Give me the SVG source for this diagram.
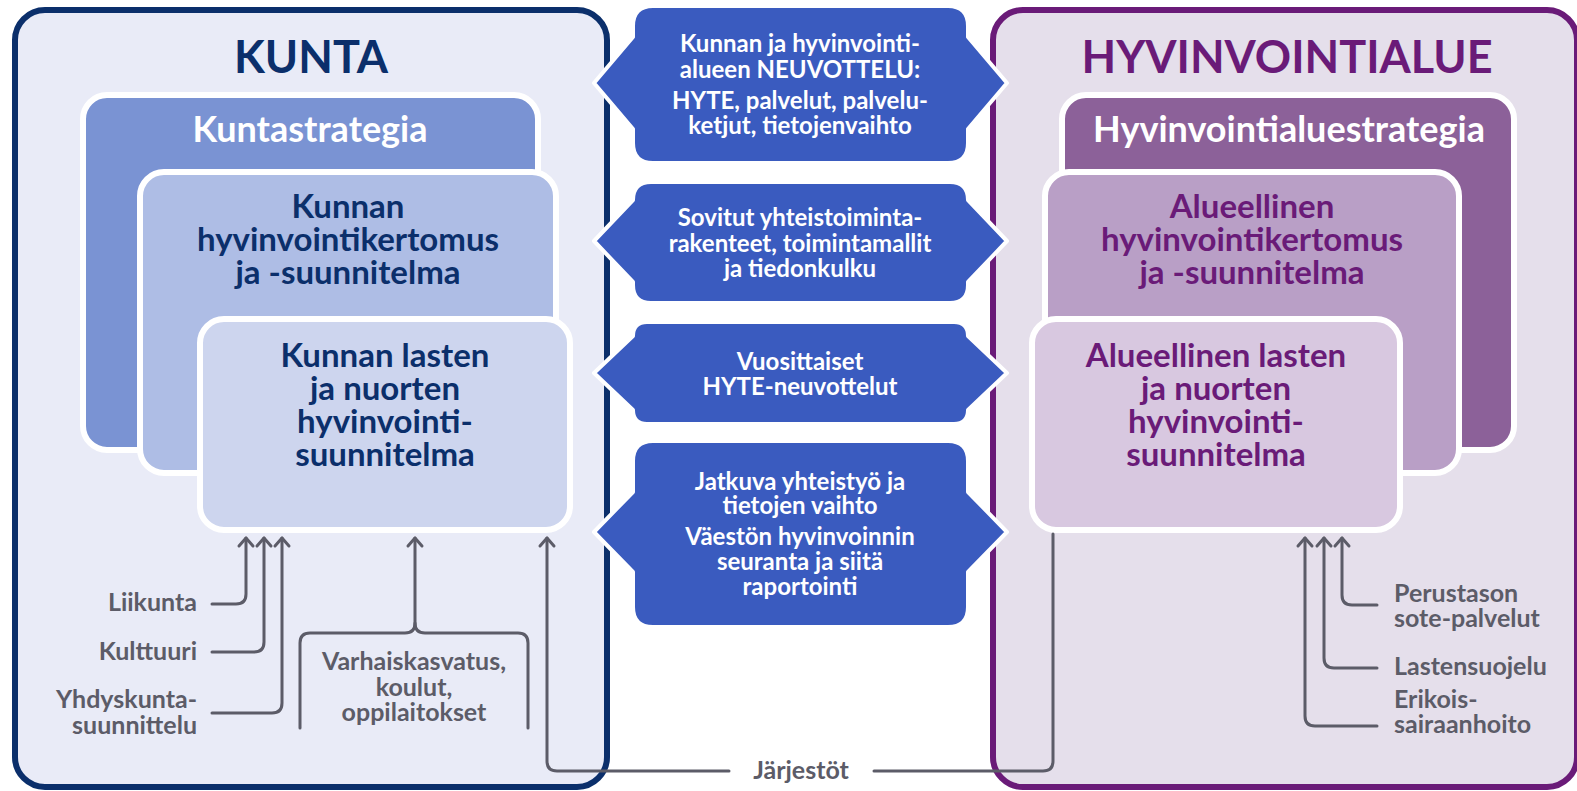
<svg xmlns="http://www.w3.org/2000/svg" width="1577" height="791" viewBox="0 0 1577 791">
<defs>
<style>
text{font-family:Lato,"Open Sans",sans-serif;font-weight:700}
.t-navy{fill:#0b2f6b}
.t-purp{fill:#6a1b78}
.t-white{fill:#ffffff}
.t-gray{fill:#5c5c68;font-size:25px}
.mid{fill:#ffffff;font-size:24px;text-anchor:middle}
.c{text-anchor:middle}
.box{stroke:#ffffff;stroke-width:6}
.hex{fill:#3a5bbf;stroke:#ffffff;stroke-width:4;stroke-linejoin:round}
.con{fill:none;stroke:#5c5c68;stroke-width:3;stroke-linecap:round;stroke-linejoin:round}
</style>
<marker id="arr" viewBox="-12 -10 16 20" refX="0" refY="0" markerWidth="16" markerHeight="20" markerUnits="userSpaceOnUse" orient="auto">
<path d="M -8 -7 L 0 0 L -8 7" fill="none" stroke="#5c5c68" stroke-width="3" stroke-linecap="round" stroke-linejoin="round"/>
</marker>
</defs>
<rect width="1577" height="791" fill="#ffffff"/>

<g id="kunta">
<rect x="15" y="10" width="592" height="777" rx="30" fill="#e9ebf7" stroke="#0b2f6b" stroke-width="6"/>
<text x="311" y="73" class="t-navy c" font-size="45">KUNTA</text>
</g>

<g id="hyvinvointialue">
<rect x="993" y="10" width="584" height="777" rx="30" fill="#e5dfeb" stroke="#6a1b78" stroke-width="6"/>
<text x="1287" y="73" class="t-purp c" font-size="45">HYVINVOINTIALUE</text>
</g>

<g id="kuntastrategia">
<rect x="83" y="95" width="455" height="355" rx="24" class="box" fill="#7a93d3"/>
<text x="310" y="142" class="t-white c" font-size="36">Kuntastrategia</text>
</g>
<g id="kunnan-hyvinvointikertomus">
<rect x="140" y="172" width="416" height="301" rx="24" class="box" fill="#aebde5"/>
<text class="t-navy c" font-size="33"><tspan x="348" y="218">Kunnan</tspan><tspan x="348" y="251">hyvinvointikertomus</tspan><tspan x="348" y="284">ja -suunnitelma</tspan></text>
</g>
<g id="kunnan-lasten">
<rect x="200" y="319" width="370" height="211" rx="24" class="box" fill="#cdd5ee"/>
<text class="t-navy c" font-size="33"><tspan x="385" y="367">Kunnan lasten</tspan><tspan x="385" y="400">ja nuorten</tspan><tspan x="385" y="433">hyvinvointi-</tspan><tspan x="385" y="466">suunnitelma</tspan></text>
</g>

<g id="hyvinvointialuestrategia">
<rect x="1062" y="95" width="452" height="355" rx="24" class="box" fill="#8c6199"/>
<text x="1289" y="142" class="t-white c" font-size="36">Hyvinvointialuestrategia</text>
</g>
<g id="alueellinen-hyvinvointikertomus">
<rect x="1045" y="172" width="414" height="301" rx="24" class="box" fill="#b99fc6"/>
<text class="t-purp c" font-size="33"><tspan x="1252" y="218">Alueellinen</tspan><tspan x="1252" y="251">hyvinvointikertomus</tspan><tspan x="1252" y="284">ja -suunnitelma</tspan></text>
</g>
<g id="alueellinen-lasten">
<rect x="1032" y="319" width="368" height="211" rx="24" class="box" fill="#d8c8e0"/>
<text class="t-purp c" font-size="33"><tspan x="1216" y="367">Alueellinen lasten</tspan><tspan x="1216" y="400">ja nuorten</tspan><tspan x="1216" y="433">hyvinvointi-</tspan><tspan x="1216" y="466">suunnitelma</tspan></text>
</g>

<g id="neuvottelu">
<path class="hex" d="M 653,6 H 948 Q 968,6 968,26 V 37 L 1007,83 L 968,129 V 143 Q 968,163 948,163 H 653 Q 633,163 633,143 V 129 L 594,83 L 633,37 V 26 Q 633,6 653,6 Z"/>
<text class="mid"><tspan x="800" y="52">Kunnan ja hyvinvointi-</tspan><tspan x="800" y="78">alueen NEUVOTTELU:</tspan><tspan x="800" y="109">HYTE, palvelut, palvelu-</tspan><tspan x="800" y="134">ketjut, tietojenvaihto</tspan></text>
</g>
<g id="yhteistoiminta">
<path class="hex" d="M 651,182 H 950 Q 968,182 968,200 L 1007,241 L 968,282 V 285 Q 968,303 950,303 H 651 Q 633,303 633,285 V 282 L 594,241 L 633,200 Q 633,182 651,182 Z"/>
<text class="mid"><tspan x="800" y="226">Sovitut yhteistoiminta-</tspan><tspan x="800" y="252">rakenteet, toimintamallit</tspan><tspan x="800" y="277">ja tiedonkulku</tspan></text>
</g>
<g id="hyte-neuvottelut">
<path class="hex" d="M 647,322 H 954 Q 968,322 968,336 L 1007,373 L 968,410 Q 968,424 954,424 H 647 Q 633,424 633,410 L 594,373 L 633,336 Q 633,322 647,322 Z"/>
<text class="mid"><tspan x="800" y="370">Vuosittaiset</tspan><tspan x="800" y="395">HYTE-neuvottelut</tspan></text>
</g>
<g id="yhteistyo">
<path class="hex" d="M 653,441 H 948 Q 968,441 968,461 V 492 L 1007,532 L 968,572 V 607 Q 968,627 948,627 H 653 Q 633,627 633,607 V 572 L 594,532 L 633,492 V 461 Q 633,441 653,441 Z"/>
<text class="mid"><tspan x="800" y="490">Jatkuva yhteistyö ja</tspan><tspan x="800" y="514">tietojen vaihto</tspan><tspan x="800" y="545">Väestön hyvinvoinnin</tspan><tspan x="800" y="570">seuranta ja siitä</tspan><tspan x="800" y="595">raportointi</tspan></text>
</g>

<g id="labels">
<text class="t-gray" text-anchor="end" x="197" y="611">Liikunta</text>
<text class="t-gray" text-anchor="end" x="197" y="660">Kulttuuri</text>
<text class="t-gray" text-anchor="end"><tspan x="197" y="708">Yhdyskunta-</tspan><tspan x="197" y="734">suunnittelu</tspan></text>
<text class="t-gray" text-anchor="middle"><tspan x="414" y="670">Varhaiskasvatus,</tspan><tspan x="414" y="696">koulut,</tspan><tspan x="414" y="721">oppilaitokset</tspan></text>
<text class="t-gray" text-anchor="middle" x="801" y="779">Järjestöt</text>
<text class="t-gray"><tspan x="1394" y="602">Perustason</tspan><tspan x="1394" y="627">sote-palvelut</tspan></text>
<text class="t-gray" x="1394" y="675">Lastensuojelu</text>
<text class="t-gray"><tspan x="1394" y="708">Erikois-</tspan><tspan x="1394" y="733">sairaanhoito</tspan></text>
</g>

<g id="connectors">
<path class="con" marker-end="url(#arr)" d="M 212,604 H 236 Q 246,604 246,594 V 538"/>
<path class="con" marker-end="url(#arr)" d="M 212,652 H 254 Q 264,652 264,642 V 538"/>
<path class="con" marker-end="url(#arr)" d="M 212,713 H 272 Q 282,713 282,703 V 538"/>
<path class="con" marker-end="url(#arr)" d="M 300,728 V 643 Q 300,633 310,633 H 405 Q 415,633 415,623 V 538"/>
<path class="con" d="M 528,728 V 643 Q 528,633 518,633 H 425 Q 415,633 415,623"/>
<path class="con" marker-end="url(#arr)" d="M 729,771 H 557 Q 547,771 547,761 V 538"/>
<path class="con" d="M 874,771 H 1043 Q 1053,771 1053,761 V 534"/>
<path class="con" marker-end="url(#arr)" d="M 1377,605 H 1352 Q 1342,605 1342,595 V 538"/>
<path class="con" marker-end="url(#arr)" d="M 1377,668 H 1334 Q 1324,668 1324,658 V 538"/>
<path class="con" marker-end="url(#arr)" d="M 1377,726 H 1315 Q 1305,726 1305,716 V 538"/>
</g>
</svg>
